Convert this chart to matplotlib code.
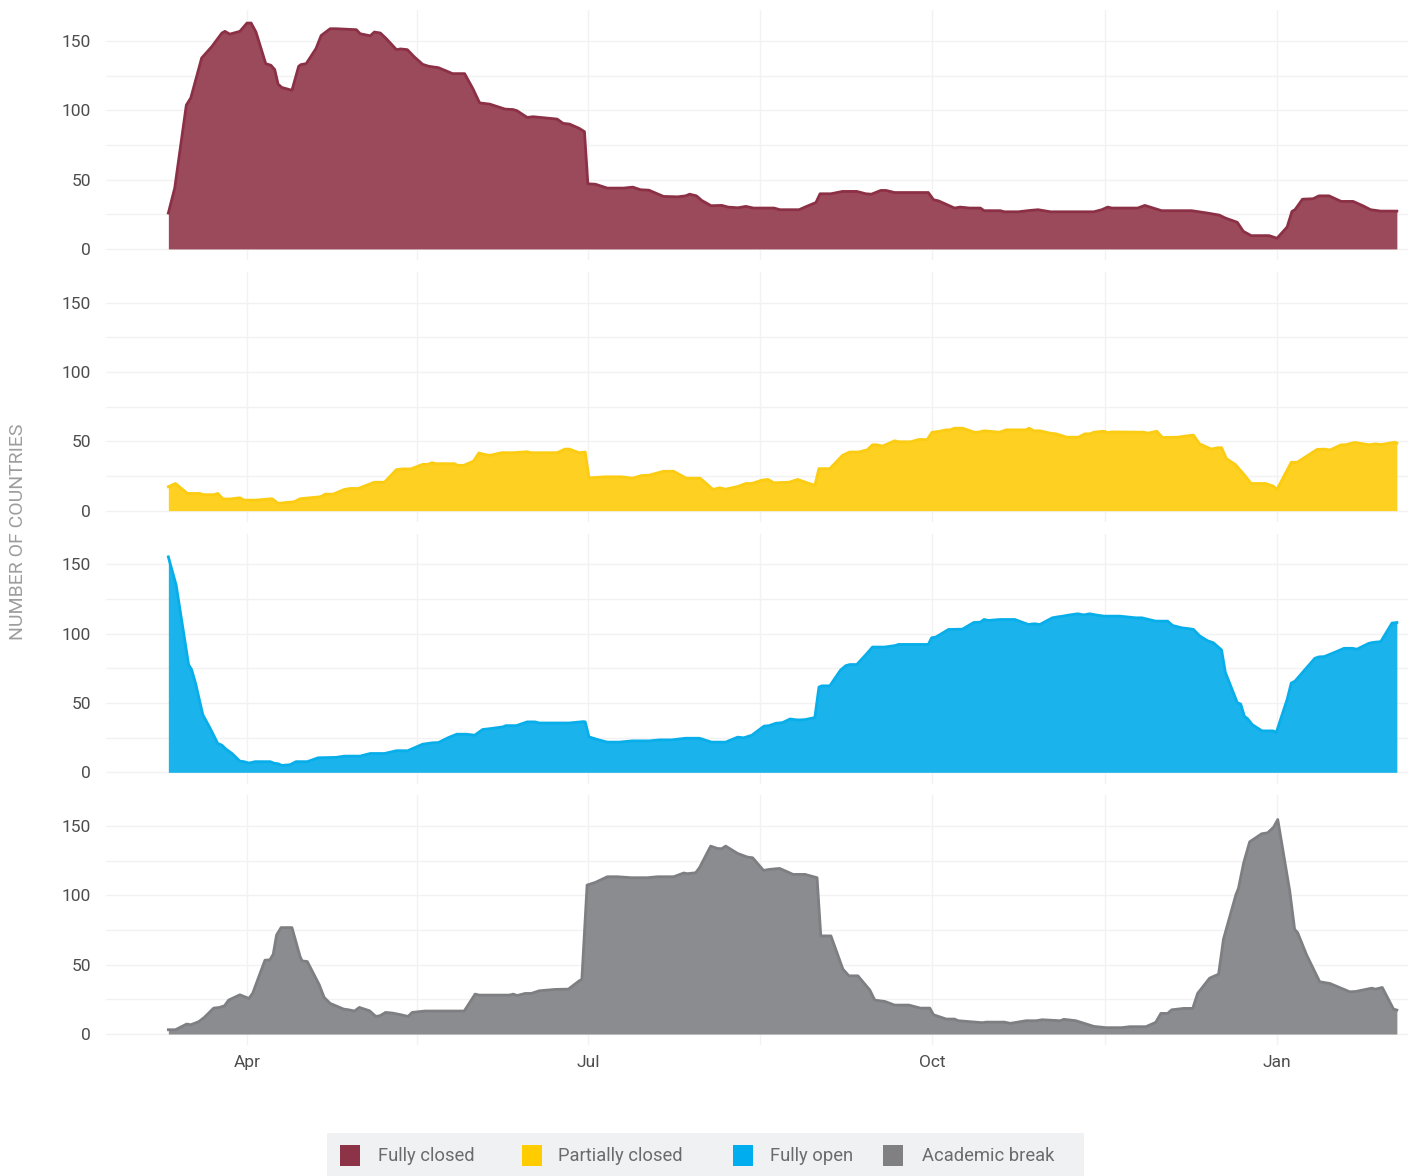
import matplotlib
matplotlib.use("Agg")
import matplotlib.pyplot as plt
import matplotlib.dates as mdates
from matplotlib.patches import Rectangle
import pandas as pd
import numpy as np

plt.rcParams['font.family'] = ['Roboto', 'DejaVu Sans']

# ---------------- data (day offsets from 2020-03-11, values = number of countries) -------------
start_date = pd.Timestamp("2020-03-11")
series_names = ["Fully closed", "Partially closed", "Fully open", "Academic break"]

closed_days = [0, 1.7, 4.8, 6.0, 8.9, 11.6, 14.3, 15.1, 16.4, 19.1, 21, 22.1, 23.4, 26, 27.4, 28.4, 29.3, 30.3, 33,
               34.8, 35.4, 36.8, 39.4, 40.8, 43.2, 44.8, 50.2, 51.2, 53.9, 55, 56.6, 58.2, 60.9, 62, 63.8, 65.7, 67.9,
               69.5, 72.1, 73.8, 75.9, 79.1, 81.3, 83.1, 85.8, 89.9, 92, 93.1, 95.8, 97.4, 103.8, 105.4, 107.1, 109.7,
               111.1, 112, 114, 117.2, 121.5, 124, 126.1, 128.3, 132.2, 136, 138.1, 139.2, 141, 142.4, 144.9, 147.8,
               149.4, 152.1, 154.2, 156.2, 161.7, 163.3, 168.4, 170.4, 172.9, 174, 176.9, 180, 183.8, 186.2, 187.7,
               190.2, 191.6, 193.9, 202.9, 204.3, 205.6, 209.9, 211.4, 213.9, 216.8, 217.8, 222.1, 223.2, 226.9, 230.1,
               232.2, 235.5, 247.1, 249.2, 250.8, 251.9, 258.8, 260.7, 265.2, 273.2, 277.4, 280.6, 282.2, 285.4, 287,
               289.1, 293.9, 296, 298.7, 300, 300.8, 302.8, 305.6, 307.2, 309.9, 313.1, 316.3, 318.9, 321, 323.7, 328]
closed_vals = [25.9, 43.9, 103.8, 109, 137.8, 146, 155.8, 157, 155, 157, 163, 163, 156.5, 133.7, 132.5, 129.4, 118.9,
               116.5, 114.5, 131.8, 133, 133.7, 144.5, 154, 158.9, 158.9, 158.2, 155.3, 153.8, 156.5, 155.8, 151.7,
               143.8, 144.3, 143.8, 138.5, 133.2, 131.8, 130.8, 128.9, 126.5, 126.5, 115.7, 105.4, 104.5, 100.9, 100.6,
               99.7, 94.9, 95.4, 93.7, 90.6, 90.1, 87, 84.6, 47, 46.7, 43.9, 43.9, 44.6, 42.7, 42.4, 37.9, 37.6, 38.3,
               39.5, 38.3, 35, 31.2, 31.4, 30.2, 29.7, 30.7, 29.5, 29.5, 28.3, 28.3, 30.7, 33.5, 39.8, 39.8, 41.5, 41.5,
               39.8, 39.5, 42.2, 42.2, 40.7, 40.7, 35.5, 34.7, 29.5, 30.2, 29.5, 29.5, 27.6, 27.6, 26.8, 26.8, 27.8,
               28.3, 26.8, 26.8, 28.3, 30.2, 29.5, 29.5, 31.4, 27.6, 27.6, 25.9, 24.4, 22.3, 19.2, 12.7, 9.6, 9.6, 7.7,
               15.8, 27.1, 28.3, 35.9, 36.2, 38.3, 38.3, 34.3, 34.3, 31.2, 28.3, 27.3, 27.3]

partial_days = [0, 1.9, 5.1, 8.4, 9.4, 12.1, 13.2, 14.6, 16.4, 19.1, 20.2, 23.4, 27.7, 29.3, 33.6, 35.2, 40.6, 41.9, 44,
                47, 48.6, 50.7, 52.3, 55, 57.7, 60.9, 62.5, 64.7, 67.9, 69.3, 70.4, 71.4, 76.4, 77.2, 78.9, 81.5, 82.9,
                84.3, 85.8, 89, 92, 95.8, 96.8, 103.8, 105.9, 107, 109.7, 111.3, 112.3, 116.6, 120.9, 123.9, 126.3,
                128.4, 132.2, 134.9, 138.3, 142, 145.4, 147.2, 148.8, 152, 154.2, 155.8, 158.5, 160.1, 161.7, 165.7,
                168, 172.6, 173.7, 176.6, 180, 181.9, 184.3, 186.6, 188, 189.1, 190.7, 193.9, 195, 198.2, 200.3, 202.6,
                203.9, 205.6, 207.7, 208.8, 209.9, 212, 215.2, 216.2, 217.8, 221.9, 223.7, 229, 229.8, 231.1, 232.7,
                235.4, 237, 239.9, 243, 244.7, 246, 247.1, 249.8, 250.8, 251.9, 260.4, 261.5, 263.9, 265.4, 269.5,
                272.1, 273.7, 275.3, 278.5, 280.1, 281.2, 282.5, 284.9, 287, 289.1, 292.9, 295, 296, 299.8, 301.4,
                306.7, 308.8, 310.1, 313.1, 314.2, 316.8, 320.6, 322.2, 323.8, 327.5, 328]
partial_vals = [17.2, 19.6, 12.4, 12.4, 11.5, 11.5, 12.4, 8.4, 8.4, 9.3, 7.6, 7.6, 8.6, 5.3, 6.4, 8.6, 10, 11.9, 11.9,
                15.3, 16, 16, 17.7, 20.5, 20.5, 29.6, 30.1, 30.1, 33.4, 33.4, 34.6, 33.9, 33.9, 32.7, 32.7, 35.8, 41.6,
                40.6, 39.9, 41.8, 41.8, 42.5, 41.8, 41.8, 44.4, 44.4, 41.8, 42.3, 23.6, 24.4, 24.4, 23.4, 25.3, 25.6,
                28.4, 28.4, 23.4, 23.4, 15.3, 16.5, 15.5, 17.4, 19.6, 19.6, 22, 22.5, 20.1, 20.5, 22.5, 18.2, 30.3,
                30.3, 39.9, 42.3, 42.3, 43.9, 47.5, 47.5, 46.6, 50.4, 49.7, 49.7, 51.3, 51.3, 56.6, 57.1, 58.3, 58.3,
                59.5, 59.5, 56.6, 56.6, 57.6, 56.6, 58.3, 58.3, 59.5, 57.6, 57.6, 55.9, 55.4, 53, 53, 55.4, 55.4, 56.6,
                57.3, 56.3, 56.8, 56.6, 55.9, 57.3, 52.8, 53, 54, 54.5, 48.2, 44.4, 45.4, 45.4, 37.5, 33.2, 26.7, 19.6,
                19.6, 17.7, 15.3, 34.9, 34.9, 44.2, 44.4, 43.7, 47.5, 47.5, 49.2, 47.5, 48.2, 47.7, 49.4, 48.7]

open_days = [0, 2.1, 5.4, 6.2, 7.3, 9.2, 11.1, 13.2, 14.3, 15.4, 17, 19.1, 20.2, 21.5, 23.2, 27.2, 28.3, 29.3, 30.3,
             32.5, 34.1, 37.1, 40, 44.8, 47, 51.2, 53.9, 57.7, 60.9, 63.9, 67.9, 70.5, 72.1, 74.8, 77, 79.6, 81.8,
             83.9, 86.1, 89.3, 90.1, 92.9, 95.8, 97.9, 99, 107, 110.8, 111.3, 112.3, 114.5, 117.2, 120.4, 123.9, 128.4,
             131.1, 134.3, 138.1, 141.8, 145, 148.8, 152, 153.6, 155.8, 159, 160.4, 162.2, 164, 166, 167.3, 168.3,
             169.9, 172.6, 173.7, 174.5, 176.6, 179.5, 180.9, 182, 183.8, 186.4, 188, 191.2, 193.9, 195, 202.9, 203.8,
             204.9, 208.3, 212, 215, 216.8, 217.8, 218.9, 222.1, 226, 229.6, 231.2, 232.7, 236, 237.5, 238.8, 240.2,
             242.8, 244.4, 246, 247.6, 249.8, 254, 258.3, 259.9, 263.6, 266.8, 268.1, 270.5, 272.1, 273.7, 275.3,
             277.4, 279, 279.9, 281.2, 282.2, 285.4, 286.3, 287.3, 288.1, 289.4, 292, 295, 295.8, 298.7, 299.8, 300.8,
             303.5, 306.1, 307.2, 308.6, 311.4, 313.9, 316.2, 317.3, 320.5, 321.8, 323.7, 326.7, 328]
open_vals = [155.5, 134.9, 77.8, 74.2, 63.9, 41.6, 32.1, 20.8, 19.6, 16.7, 13.6, 8.1, 7.7, 6.7, 7.7, 7.7, 6.5, 6.2, 5,
             5.5, 7.7, 7.7, 10.5, 10.8, 11.7, 11.7, 13.6, 13.6, 15.6, 15.6, 20.3, 21.3, 21.5, 25.1, 27.5, 27.5, 26.8,
             30.9, 31.6, 32.8, 33.7, 33.7, 36.4, 36.4, 35.6, 35.6, 36.6, 36.4, 25.6, 23.7, 21.8, 21.8, 22.7, 22.7,
             23.4, 23.4, 24.6, 24.6, 21.8, 21.8, 25.4, 24.9, 26.8, 33.3, 33.7, 35.4, 35.9, 38.5, 38, 37.8, 38, 39.5,
             61.5, 62.4, 62.4, 73.9, 77, 77.8, 77.8, 85.4, 90.4, 90.4, 91.4, 92.3, 92.3, 97.1, 97.6, 103.1, 103.3,
             108.1, 108.4, 110.3, 109.6, 110.3, 110.3, 106.7, 107.2, 106.7, 111.5, 112.2, 112.7, 113.4, 114.4, 113.6,
             114.4, 113.6, 112.7, 112.7, 111.5, 111.5, 109.1, 109.1, 106, 104.3, 103.8, 103.1, 98.6, 95, 93.5, 91.4,
             88.3, 72.2, 50.2, 49.3, 40.4, 38.8, 34.4, 29.9, 29.9, 28.7, 52.6, 64.4, 65.8, 74.2, 82.3, 83.3, 83.5,
             86.6, 89.5, 89.5, 88.8, 93.1, 93.8, 94.3, 107.7, 108.1]

break_days = [0, 1.9, 3.5, 4.9, 6, 8.1, 9.6, 12.1, 13.7, 15, 16.1, 19.1, 21.5, 22.5, 25.8, 27.1, 28, 28.9, 30.1, 33,
              35.2, 35.7, 37.1, 40.3, 41.6, 43.2, 46.8, 48.1, 49.7, 51, 53.7, 55.4, 56.5, 58, 59.9, 62.1, 64, 65.1,
              68.5, 79, 81.9, 83, 91, 92.1, 93.1, 95.3, 96.9, 99, 103.3, 106.8, 109.7, 110.4, 111.8, 114, 117.2, 119.9,
              123.6, 127.9, 130.6, 134.9, 137.6, 138.6, 140.8, 141.8, 144.8, 146.6, 147.7, 148.8, 152, 154.6, 156,
              158.9, 160.5, 163.2, 166.8, 170, 173.2, 174.2, 176.9, 180.1, 181.7, 184.1, 187.3, 188.6, 191.3, 193.9,
              197.7, 200.8, 203.3, 204.3, 207.7, 209.9, 210.9, 217.3, 218.4, 223.2, 224.8, 229, 231.7, 233.3, 238.1,
              239.1, 242.3, 247.1, 250.3, 254.6, 256.7, 261, 263.6, 265, 266.8, 267.9, 271.1, 273.5, 274.8, 278,
              280.4, 281.7, 285, 285.7, 287.1, 288.7, 291.9, 293.5, 295.1, 296.2, 299.4, 300.7, 301.5, 303.9, 307.4,
              310.1, 315.4, 317, 321.3, 322.3, 324.1, 327.1, 328]
break_vals = [3.1, 3.1, 5.3, 7.2, 6.7, 8.9, 12, 18.7, 19.2, 20.4, 24.5, 28.3, 25.7, 29.3, 53.3, 53.5, 57.6, 71.5, 76.8,
              76.8, 55.7, 52.8, 52.3, 35.5, 26.4, 22.1, 18, 17.5, 16.6, 19.2, 16.8, 12.7, 13.2, 15.6, 15.1, 13.9, 12.7,
              15.6, 16.6, 16.6, 28.8, 28.1, 28.1, 28.8, 27.8, 29.3, 29.3, 31.2, 32.2, 32.4, 38.4, 39.4, 107.5, 109.4,
              113.5, 113.5, 112.8, 112.8, 113.5, 113.5, 116.2, 115.7, 116.4, 120, 135.6, 133.9, 133.7, 135.6, 130.3,
              127.7, 127.2, 118.1, 118.8, 119.5, 115.2, 115.2, 112.8, 70.8, 70.8, 46.8, 42, 42, 31.7, 24.5, 23.5, 20.9,
              20.9, 18.7, 18.7, 13.9, 10.8, 10.8, 9.6, 8.2, 8.6, 8.6, 7.7, 9.6, 9.6, 10.3, 9.6, 10.6, 9.6, 5.5, 4.6,
              4.6, 5.3, 5.3, 8.4, 14.9, 14.9, 17.5, 18.5, 18.5, 29.3, 40.3, 43.2, 68.4, 100.3, 105.1, 123.6, 138.7,
              144.5, 145.2, 149.3, 154.8, 103.2, 75.6, 73.2, 57.1, 37.7, 36.5, 30.5, 30.7, 33.1, 32.4, 33.6, 18, 17.3]

y_ticks = [0, 50, 100, 150]
x_tick_labels = ["Apr", "Jul", "Oct", "Jan"]
x_tick_dates = ["2020-04-01", "2020-07-01", "2020-10-01", "2021-01-01"]

# ---------------- styles -------------
fill_colors = ["#9a4a5b", "#fdd022", "#1bb3eb", "#8b8c90"]
line_colors = ["#8c3046", "#fccc12", "#08aeea", "#7e7f83"]
legend_colors = ["#8c3347", "#ffcc00", "#00aeef", "#808083"]
all_days = [closed_days, partial_days, open_days, break_days]
all_vals = [closed_vals, partial_vals, open_vals, break_vals]

W, H = 1408, 1176
fig = plt.figure(figsize=(W / 100, H / 100), dpi=100)
fig.patch.set_facecolor("white")

apr1 = mdates.date2num(pd.Timestamp("2020-04-01"))
px_per_day = 3.7455
left_px, right_px = 106, 1408
xlim = (apr1 + (left_px - 247) / px_per_day, apr1 + (right_px - 247) / px_per_day)
major_x = [mdates.date2num(pd.Timestamp(d)) for d in x_tick_dates]
minor_x = [(a + b) / 2 for a, b in zip(major_x[:-1], major_x[1:])]

panel_tops = [10.3, 272.0, 533.7, 795.4]
panel_h = 250.0
grid_col = "#f2f2f2"

axes = []
for i in range(4):
    top = panel_tops[i]
    ax = fig.add_axes([left_px / W, 1 - (top + panel_h) / H, (right_px - left_px) / W, panel_h / H])
    axes.append(ax)
    d = [mdates.date2num(start_date + pd.Timedelta(days=float(x))) for x in all_days[i]]
    v = all_vals[i]
    ax.fill_between(d, v, 0, color=fill_colors[i], lw=0, zorder=2)
    ax.plot(d, v, color=line_colors[i], lw=2.0, zorder=3, solid_joinstyle="round")
    ax.set_xlim(*xlim)
    ax.set_ylim(-8.2, 172.2)
    ax.set_yticks(y_ticks)
    ax.set_yticks([25, 75, 125], minor=True)
    ax.set_xticks(major_x)
    ax.set_xticks(minor_x, minor=True)
    ax.grid(True, which="both", color=grid_col, lw=1.0, zorder=0)
    ax.set_axisbelow(True)
    for s in ax.spines.values():
        s.set_visible(False)
    ax.tick_params(which="both", length=0)
    ax.tick_params(axis="y", labelsize=12.5, labelcolor="#4d4d4d", pad=11)
    if i < 3:
        ax.set_xticklabels([])
    else:
        ax.set_xticklabels(x_tick_labels)
        ax.tick_params(axis="x", labelsize=12.5, labelcolor="#4d4d4d", pad=7)

fig.text(18 / W, 1 - 532 / H, "NUMBER OF COUNTRIES", rotation=90, ha="center", va="center",
         fontsize=14, color="#9d9d9d")

# ---------------- legend -------------
fig.patches.append(Rectangle((327 / W, 0), (1084 - 327) / W, (H - 1133) / H,
                             transform=fig.transFigure, facecolor="#f0f1f3", edgecolor="none"))
sq_x = [340, 522, 733, 883]
tx_x = [378, 558, 770, 922]
for name, col, sx, tx in zip(series_names, legend_colors, sq_x, tx_x):
    fig.patches.append(Rectangle((sx / W, 1 - 1166 / H), 20 / W, 21 / H,
                                 transform=fig.transFigure, facecolor=col, edgecolor="none"))
    fig.text(tx / W, 1 - 1156 / H, name, ha="left", va="center", fontsize=13.2, color="#6b6b6b")

fig.savefig("out.png", dpi=100)
